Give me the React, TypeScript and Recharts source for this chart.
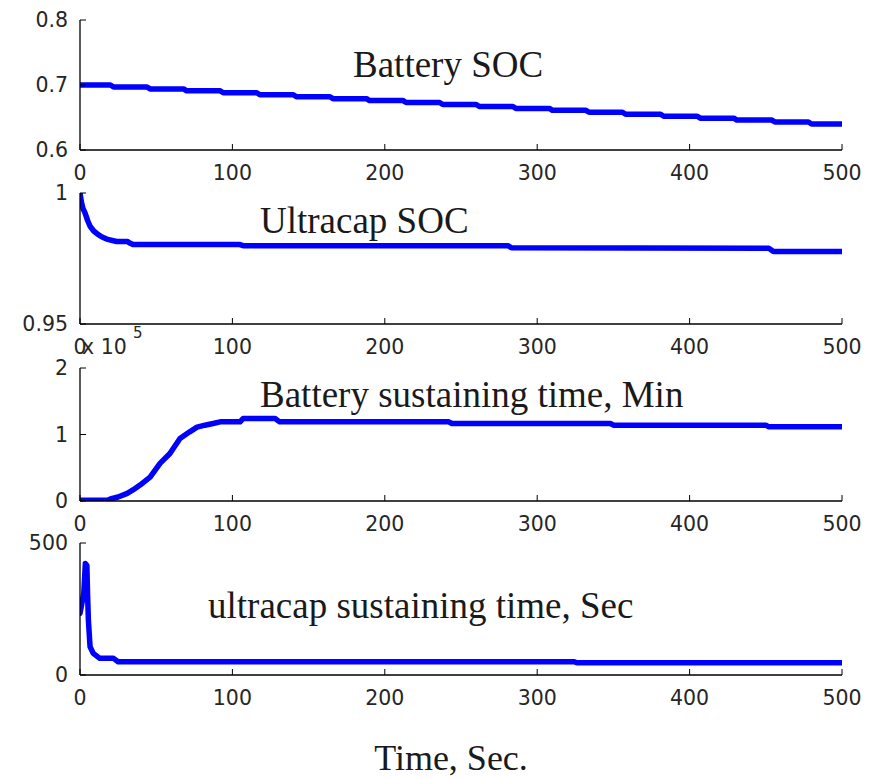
import React from 'react';
import { LineChart, Line, XAxis, YAxis } from 'recharts';

// ---------- data ----------
const timeTicks = [0, 100, 200, 300, 400, 500];

const batterySocStepTimes = [21, 45, 69, 93, 117, 141, 165, 189, 213, 237, 261, 285, 309, 333, 357, 382, 406, 430, 455, 479];
const batterySocLevels = [0.700, 0.697, 0.694, 0.691, 0.688, 0.685, 0.682, 0.679, 0.676, 0.673, 0.670, 0.667, 0.664, 0.661, 0.658, 0.655, 0.652, 0.649, 0.646, 0.643, 0.640];

const ultracapSocTimes = [0, 1, 2, 3.3, 5, 6.6, 9, 12, 14.5, 17.5, 24, 31, 33, 35, 105, 107, 281, 283, 452, 455, 500];
const ultracapSocValues = [1.0, 0.9963, 0.994, 0.9924, 0.9895, 0.9873, 0.9855, 0.9841, 0.9832, 0.9824, 0.9815, 0.9815, 0.9808, 0.9803, 0.9803, 0.9799, 0.9799, 0.9791, 0.9789, 0.9777, 0.9777];

const batteryTimeTimes = [0, 18, 20, 25, 31, 35, 39.4, 46, 52.5, 59, 65.6, 72, 76.8, 82, 87.3, 92, 105, 107, 128, 131, 242, 244, 348, 350, 450, 452, 500];
const batteryTimeValues = [0.01, 0.01, 0.03, 0.06, 0.115, 0.17, 0.24, 0.36, 0.565, 0.715, 0.94, 1.04, 1.11, 1.14, 1.165, 1.19, 1.19, 1.24, 1.24, 1.19, 1.19, 1.165, 1.165, 1.14, 1.14, 1.115, 1.115];

const ultracapTimeTimes = [0, 2.5, 3.5, 4.5, 5, 5.5, 6.6, 8.7, 13, 22, 25, 324, 326, 500];
const ultracapTimeValues = [234, 310, 422, 415, 300, 208, 107, 82, 63, 63, 50.5, 50.5, 46.5, 46.5];

const titles = ['Battery SOC', 'Ultracap SOC', 'Battery sustaining time, Min', 'ultracap sustaining time, Sec'];
const xAxisTitle = 'Time, Sec.';

// ---------- build tables ----------
const zip = (ts: number[], vs: number[]) => ts.map((t, i) => ({ t, v: vs[i] }));

const buildSteps = (steps: number[], levels: number[]) => {
  const pts = [{ t: 0, v: levels[0] }];
  steps.forEach((s, i) => {
    pts.push({ t: s - 1, v: levels[i] });
    pts.push({ t: s + 1, v: levels[i + 1] });
  });
  pts.push({ t: 500, v: levels[levels.length - 1] });
  return pts;
};

const panels = [
  { data: buildSteps(batterySocStepTimes, batterySocLevels), domain: [0.6, 0.8], ticks: [0.6, 0.7, 0.8], top: 20, bottom: 150, title: titles[0], tx: 353, ty: 77 },
  { data: zip(ultracapSocTimes, ultracapSocValues), domain: [0.95, 1], ticks: [0.95, 1], top: 193, bottom: 324, title: titles[1], tx: 260, ty: 233 },
  { data: zip(batteryTimeTimes, batteryTimeValues), domain: [0, 2], ticks: [0, 1, 2], top: 368, bottom: 501, title: titles[2], tx: 260, ty: 407 },
  { data: zip(ultracapTimeTimes, ultracapTimeValues), domain: [0, 500], ticks: [0, 500], top: 543, bottom: 675, title: titles[3], tx: 208, ty: 618 },
];

// ---------- styling ----------
const W = 879;
const H = 779;
const PLOT_LEFT = 80;
const PLOT_RIGHT = 842;
const TICK_FONT = '"DejaVu Sans", Verdana, sans-serif';
const TITLE_FONT = '"Liberation Serif", "Times New Roman", serif';
const TICK_COLOR = '#262626';
const TICK_LEN = 6;

const BottomTick = (props: any) => {
  const { x, y, payload } = props;
  return (
    <g>
      <line x1={x} y1={y} x2={x} y2={y - TICK_LEN} stroke="#000" strokeWidth={1} />
      <text x={x} y={y + 30} textAnchor="middle" fontFamily={TICK_FONT} fontSize={20.5} fill={TICK_COLOR}>
        {String(payload.value)}
      </text>
    </g>
  );
};

const LeftTick = (props: any) => {
  const { x, y, payload } = props;
  return (
    <g>
      <line x1={x} y1={y} x2={x + TICK_LEN} y2={y} stroke="#000" strokeWidth={1} />
      <text x={x - 12} y={y + 7} textAnchor="end" fontFamily={TICK_FONT} fontSize={20.5} fill={TICK_COLOR}>
        {String(payload.value)}
      </text>
    </g>
  );
};

const TopTick = (props: any) => {
  const { x, y } = props;
  return <line x1={x} y1={y} x2={x} y2={y + TICK_LEN} stroke="#000" strokeWidth={1} />;
};

const RightTick = (props: any) => {
  const { x, y } = props;
  return <line x1={x} y1={y} x2={x - TICK_LEN} y2={y} stroke="#000" strokeWidth={1} />;
};

const axisLine = { stroke: '#000', strokeWidth: 1.3 };

const Panel = ({ p }: { p: any }) => {
  const plotH = p.bottom - p.top;
  const marginTop = 20;
  const xAxisH = 40;
  return (
    <div style={{ position: 'absolute', left: 0, top: p.top - marginTop, width: W }}>
      <LineChart
        width={W}
        height={plotH + marginTop + xAxisH}
        data={p.data}
        margin={{ top: marginTop, right: W - PLOT_RIGHT, bottom: 0, left: 0 }}
      >
        <XAxis
          xAxisId="b"
          dataKey="t"
          type="number"
          domain={[0, 500]}
          ticks={timeTicks}
          interval={0}
          height={xAxisH}
          tickSize={0}
          tickMargin={0}
          tickLine={false}
          axisLine={axisLine}
          tick={<BottomTick />}
          allowDataOverflow
        />
        <XAxis
          xAxisId="t"
          dataKey="t"
          type="number"
          orientation="top"
          domain={[0, 500]}
          ticks={timeTicks}
          interval={0}
          height={0}
          tickSize={0}
          tickMargin={0}
          tickLine={false}
          axisLine={axisLine}
          tick={<TopTick />}
          allowDataOverflow
        />
        <YAxis
          yAxisId="l"
          type="number"
          domain={p.domain}
          ticks={p.ticks}
          interval={0}
          width={PLOT_LEFT}
          tickSize={0}
          tickMargin={0}
          tickLine={false}
          axisLine={axisLine}
          tick={<LeftTick />}
          allowDataOverflow
        />
        <YAxis
          yAxisId="r"
          type="number"
          orientation="right"
          domain={p.domain}
          ticks={p.ticks}
          interval={0}
          width={0}
          tickSize={0}
          tickMargin={0}
          tickLine={false}
          axisLine={axisLine}
          tick={<RightTick />}
          allowDataOverflow
        />
        <Line
          xAxisId="b"
          yAxisId="l"
          dataKey="v"
          type="linear"
          stroke="#0000ff"
          strokeWidth={5.5}
          strokeLinejoin="round"
          strokeLinecap="round"
          dot={false}
          activeDot={false}
          isAnimationActive={false}
        />
      </LineChart>
    </div>
  );
};

export default function App() {
  return (
    <div style={{ position: 'absolute', left: 0, top: 0, width: W, height: H, background: '#fff', overflow: 'hidden' }}>
      {panels.map((p, i) => (
        <Panel key={i} p={p} />
      ))}
      <svg width={W} height={H} style={{ position: 'absolute', left: 0, top: 0, pointerEvents: 'none' }}>
        {panels.map((p, i) => (
          <text key={i} x={p.tx} y={p.ty} fontFamily={TITLE_FONT} fontSize={37} fill="#1a1a1a">
            {p.title}
          </text>
        ))}
        <text x={82} y={354} fontFamily={TICK_FONT} fontSize={20.5} fill={TICK_COLOR}>x 10</text>
        <text x={133} y={338} fontFamily={TICK_FONT} fontSize={15} fill={TICK_COLOR}>5</text>
        <text x={451} y={770} textAnchor="middle" fontFamily={TITLE_FONT} fontSize={36} fill="#1a1a1a">
          {xAxisTitle}
        </text>
      </svg>
    </div>
  );
}
